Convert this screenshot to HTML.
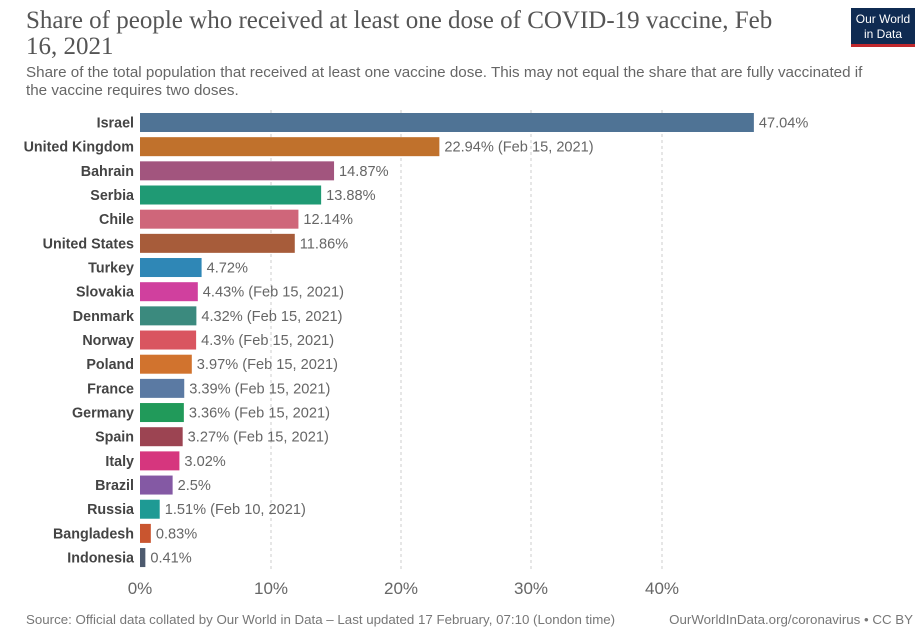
<!DOCTYPE html>
<html><head><meta charset="utf-8"><style>
body{margin:0;background:#fff;width:917px;height:635px;overflow:hidden}
svg{display:block}
text{font-family:"Liberation Sans",sans-serif}
</style></head><body>
<svg width="917" height="635" xmlns="http://www.w3.org/2000/svg">
<text x="26" y="28" style="font-family:'Liberation Serif',serif" font-size="25" fill="#555">Share of people who received at least one dose of COVID-19 vaccine, Feb</text>
<text x="26" y="54" style="font-family:'Liberation Serif',serif" font-size="25" fill="#555">16, 2021</text>
<text x="26" y="77" font-size="15.2" fill="#666">Share of the total population that received at least one vaccine dose. This may not equal the share that are fully vaccinated if</text>
<text x="26" y="95" font-size="15.2" fill="#666">the vaccine requires two doses.</text>
<rect x="851" y="8" width="64" height="38" fill="#0f2b52"/>
<rect x="851" y="44" width="64" height="3" fill="#c0282d"/>
<text x="883" y="23" font-size="12" fill="#fff" text-anchor="middle">Our World</text>
<text x="883" y="38" font-size="12" fill="#fff" text-anchor="middle">in Data</text>
<g stroke="#ccc" stroke-dasharray="3,3" stroke-width="1">
<line x1="271" y1="110" x2="271" y2="570"/><line x1="401" y1="110" x2="401" y2="570"/><line x1="531" y1="110" x2="531" y2="570"/><line x1="662" y1="110" x2="662" y2="570"/>
</g>
<g font-size="17" fill="#666" text-anchor="middle">
<text x="140" y="594">0%</text><text x="271" y="594">10%</text><text x="401" y="594">20%</text><text x="531" y="594">30%</text><text x="662" y="594">40%</text>
</g>
<g id="bars"></g>
<text x="26" y="624" font-size="13.3" fill="#777">Source: Official data collated by Our World in Data – Last updated 17 February, 07:10 (London time)</text>
<text x="913" y="624" font-size="13.3" fill="#777" text-anchor="end">OurWorldInData.org/coronavirus • CC BY</text>
</svg>
<script>
var d=[["Israel",47.04,"#4f7395",""],["United Kingdom",22.94,"#c0712c"," (Feb 15, 2021)"],["Bahrain",14.87,"#a2557e",""],["Serbia",13.88,"#1f9a74",""],["Chile",12.14,"#cf667a",""],["United States",11.86,"#a75c3a",""],["Turkey",4.72,"#2f87b6",""],["Slovakia",4.43,"#d0409e"," (Feb 15, 2021)"],["Denmark",4.32,"#3b8a7e"," (Feb 15, 2021)"],["Norway",4.3,"#d95560"," (Feb 15, 2021)"],["Poland",3.97,"#d1732e"," (Feb 15, 2021)"],["France",3.39,"#5b7aa3"," (Feb 15, 2021)"],["Germany",3.36,"#219a5a"," (Feb 15, 2021)"],["Spain",3.27,"#9c4452"," (Feb 15, 2021)"],["Italy",3.02,"#d6367e",""],["Brazil",2.5,"#8459a4",""],["Russia",1.51,"#1e9a94"," (Feb 10, 2021)"],["Bangladesh",0.83,"#c9552f",""],["Indonesia",0.41,"#4d5a6e",""]];
var g=document.getElementById("bars"),s="";
d.forEach(function(r,i){var c=122.5+i*24.17,w=r[1]*13.05;
s+='<rect x="140" y="'+(c-9.5)+'" width="'+w+'" height="19" fill="'+r[2]+'"/>';
s+='<text x="134" y="'+(c+5)+'" text-anchor="end" font-weight="bold" font-size="14.3" fill="#444">'+r[0]+'</text>';
s+='<text x="'+(140+w+5)+'" y="'+(c+5)+'" font-size="14.6" fill="#666">'+r[1]+'%'+r[3]+'</text>';});
g.innerHTML=s;
</script>
</body></html>
